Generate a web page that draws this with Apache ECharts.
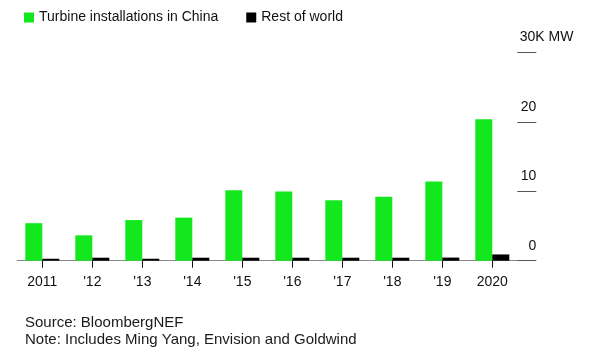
<!DOCTYPE html>
<html>
<head>
<meta charset="utf-8">
<script src="https://cdn.jsdelivr.net/npm/echarts@6/dist/echarts.min.js"></script>
<style>
  html, body { margin: 0; padding: 0; background: #fff; }
  #chart { width: 600px; height: 358px; }
</style>
</head>
<body>
<div id="chart"></div>
<script>
const categories = ['2011', "'12", "'13", "'14", "'15", "'16", "'17", "'18", "'19", '2020'];
const chinaValues = [5.4, 3.65, 5.85, 6.2, 10.15, 9.95, 8.7, 9.2, 11.4, 20.35];
const restValues = [0.28, 0.43, 0.28, 0.43, 0.43, 0.43, 0.43, 0.43, 0.45, 0.9];
const yTicks = [0, 10, 20, 30];
const seriesNames = ['Turbine installations in China', 'Rest of world'];
const unitLabel = 'K MW';
const footnote = 'Source: BloombergNEF\nNote: Includes Ming Yang, Envision and Goldwind';

const FONT = '"Liberation Sans", Arial, Helvetica, sans-serif';
const yMax = yTicks[yTicks.length - 1];
const chart = echarts.init(document.getElementById('chart'), null, { renderer: 'canvas' });

chart.setOption({
  animation: false,
  backgroundColor: '#ffffff',
  textStyle: { fontFamily: FONT },
  title: {
    text: footnote,
    left: 20,
    top: 310,
    textStyle: { fontFamily: FONT, fontSize: 15, fontWeight: 'normal', color: '#1a1a1a', lineHeight: 16.3 }
  },
  legend: {
    data: seriesNames,
    left: 19,
    top: 5.5,
    icon: 'rect',
    itemWidth: 10,
    itemHeight: 10,
    itemGap: 28,
    textStyle: { fontFamily: FONT, fontSize: 14, color: '#111' }
  },
  grid: { left: 17.3, right: 82.7, top: 52.3, bottom: 97.3, containLabel: false },
  xAxis: {
    type: 'category',
    data: categories,
    axisLine: { show: true, lineStyle: { color: '#888', width: 1 } },
    axisTick: { show: true, alignWithLabel: true, length: 7, lineStyle: { color: '#111', width: 1 } },
    axisLabel: { margin: 14, fontFamily: FONT, fontSize: 14, color: '#111' },
    splitLine: { show: false }
  },
  yAxis: {
    type: 'value',
    position: 'right',
    min: yTicks[0],
    max: yMax,
    interval: 10,
    axisLine: { show: false },
    axisTick: { show: true, inside: false, length: 19, lineStyle: { color: '#555', width: 1 } },
    axisLabel: {
      margin: 19,
      align: 'right',
      verticalAlign: 'bottom',
      padding: [0, 0, 8, 0],
      fontFamily: FONT,
      fontSize: 14,
      color: '#111',
      formatter: function (v) {
        return v === yMax ? '{n|' + v + '}{u|' + unitLabel + '}' : '{n|' + v + '}';
      },
      rich: {
        n: { fontFamily: FONT, fontSize: 14, color: '#111', align: 'left' },
        u: { fontFamily: FONT, fontSize: 14, color: '#111', width: 1, align: 'left' }
      }
    },
    splitLine: { show: false }
  },
  series: [
    {
      name: seriesNames[0],
      type: 'bar',
      data: chinaValues,
      barWidth: 17,
      barGap: '0%',
      itemStyle: { color: '#13e81f' }
    },
    {
      name: seriesNames[1],
      type: 'bar',
      data: restValues,
      barWidth: 17,
      barGap: '0%',
      itemStyle: { color: '#000000' }
    }
  ]
});
</script>
</body>
</html>
